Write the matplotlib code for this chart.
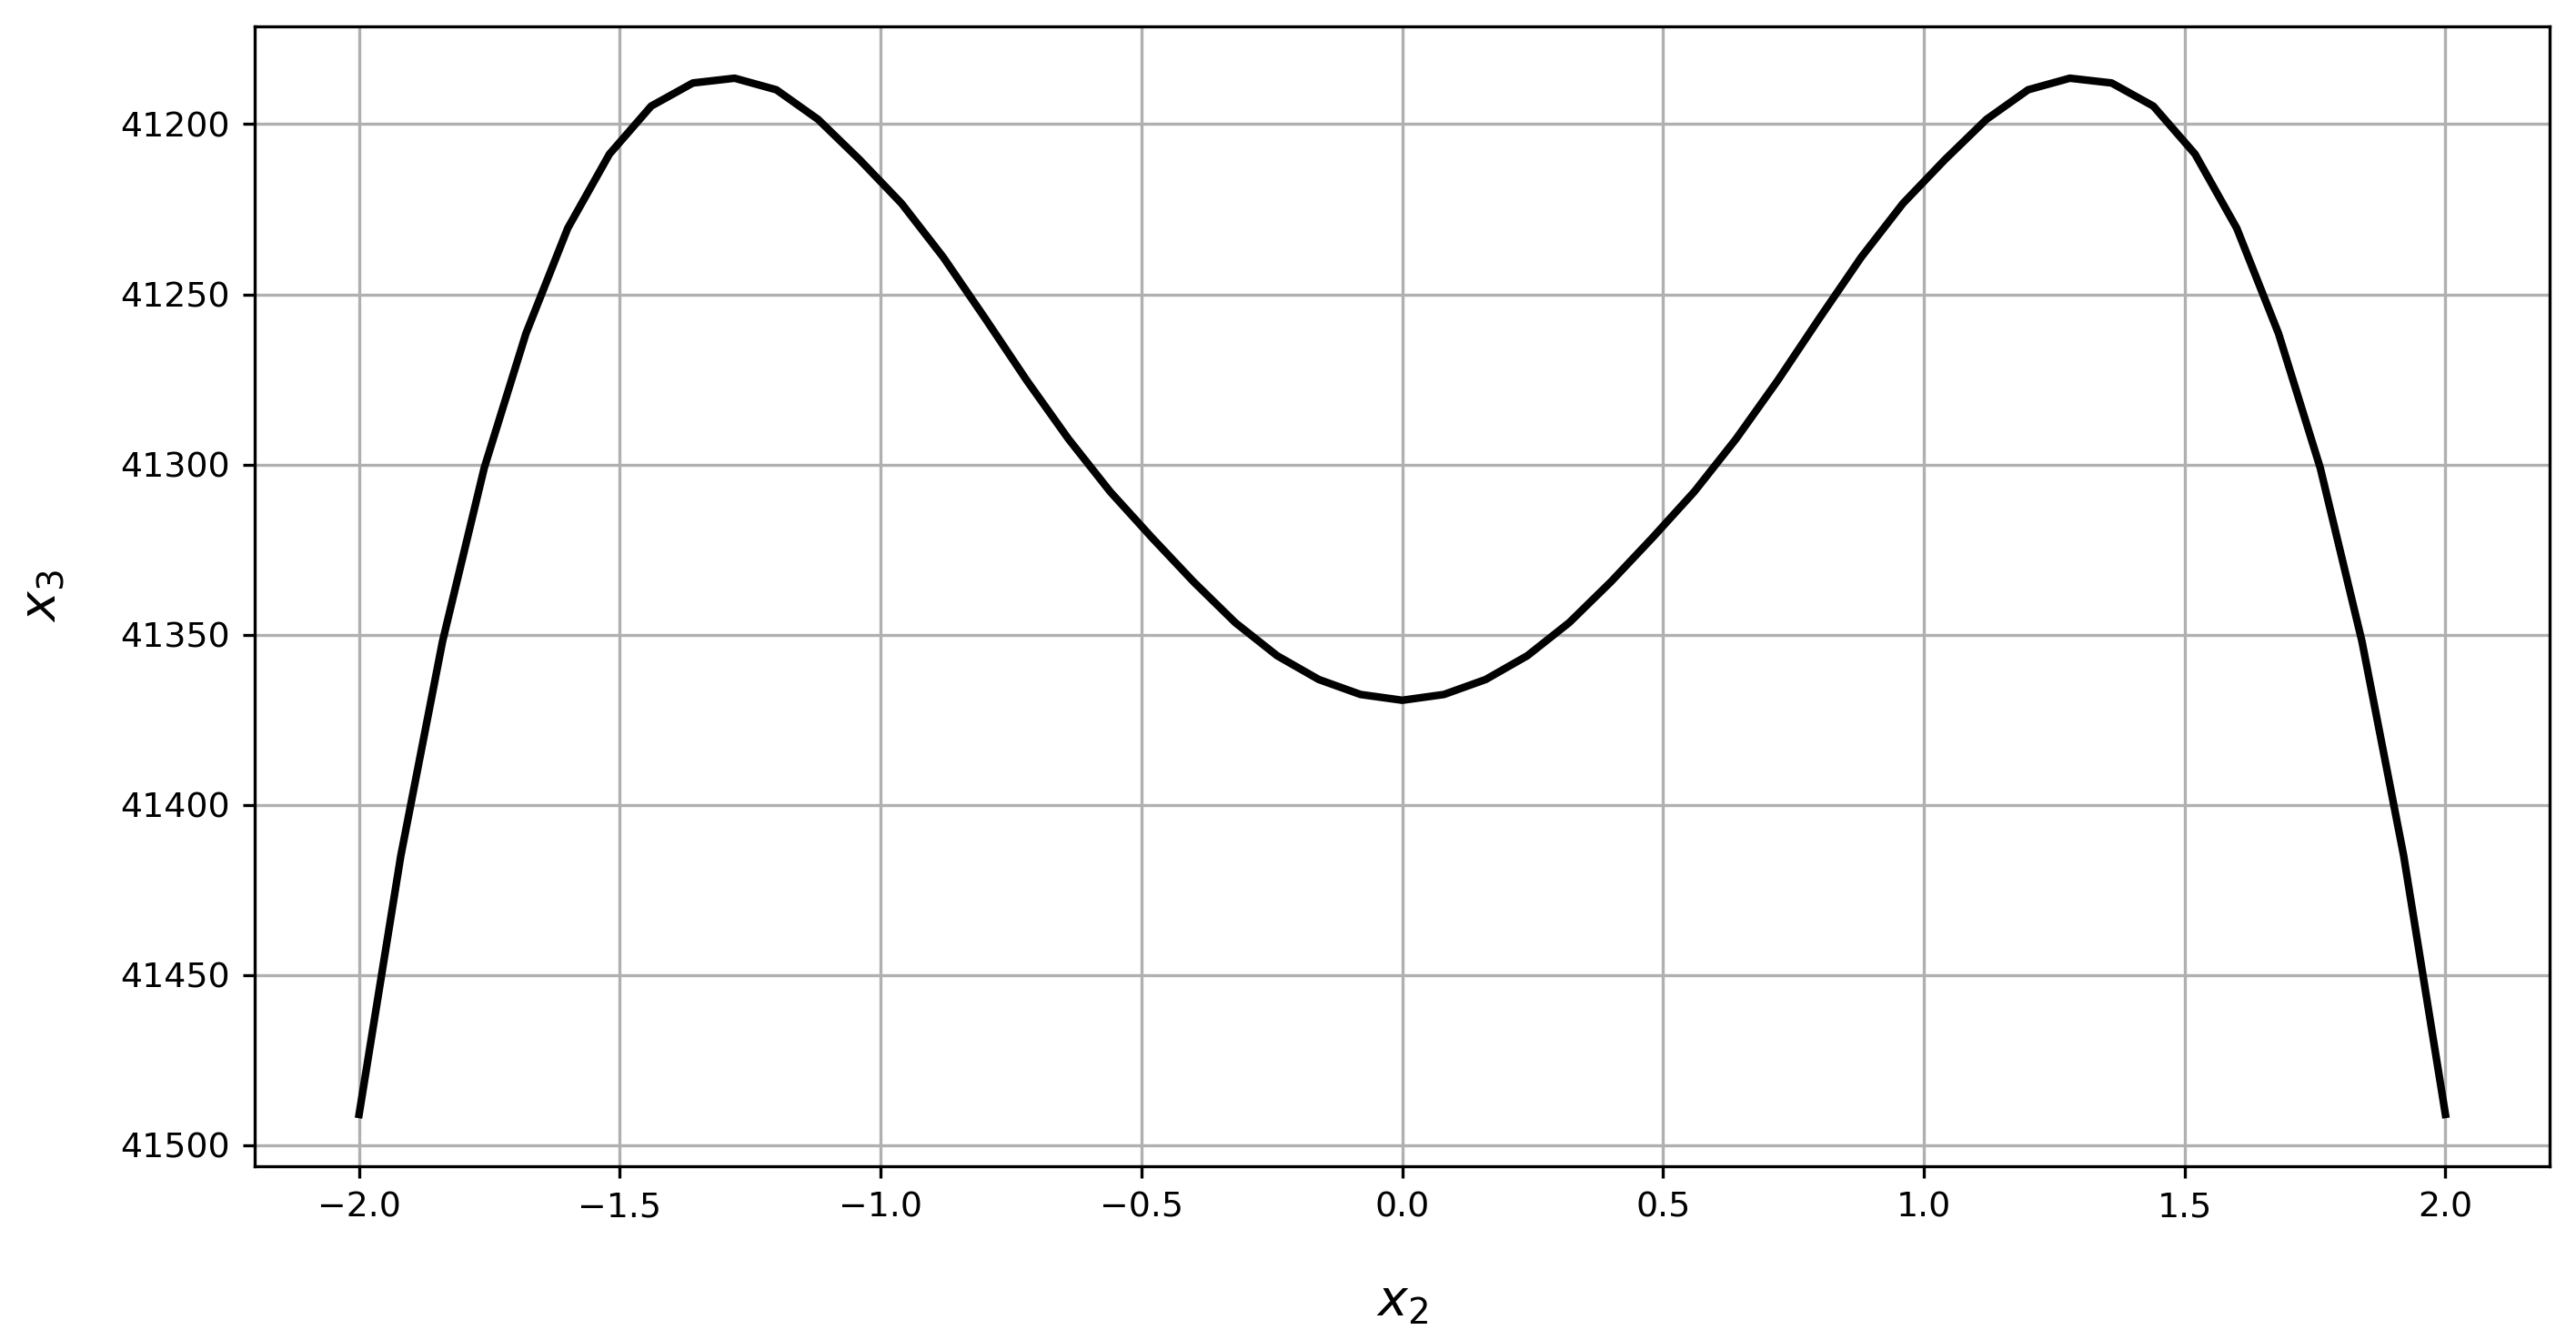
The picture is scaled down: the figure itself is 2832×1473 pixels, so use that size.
import numpy as np
import matplotlib
matplotlib.use("Agg")
import matplotlib.pyplot as plt

# x2 sample points (step 0.08) and the x3 values (left half, mirrored)
x2 = np.round(np.arange(-2.0, 2.0001, 0.08), 2)
x3_left = [41491, 41415, 41352, 41301, 41261.5, 41230.6, 41208.8, 41194.7,
           41187.9, 41186.5, 41189.9, 41198.6, 41210.5, 41223.3, 41239.1,
           41257, 41275.3, 41292.5, 41308, 41321.5, 41334.5, 41346.5,
           41356.2, 41363.2, 41367.6, 41369.3]
x3 = x3_left + x3_left[-2::-1]

plt.rcParams['xtick.major.size'] = 3.05
plt.rcParams['ytick.major.size'] = 3.05

fig = plt.figure(figsize=(2832 / 300, 1473 / 300), dpi=300)
ax = fig.add_axes([0.0989, 0.1297, 0.9898 - 0.0989, 0.9803 - 0.1297])

ax.plot(x2, x3, color='black', linewidth=2.0)
ax.invert_yaxis()
ax.grid(True)

ax.tick_params(labelsize=9.1)
ax.set_xlabel('$x_2$', fontsize=13.3, labelpad=14)
ax.set_ylabel('$x_3$', fontsize=13.3, labelpad=14)

fig.savefig('out.png', dpi=300)
